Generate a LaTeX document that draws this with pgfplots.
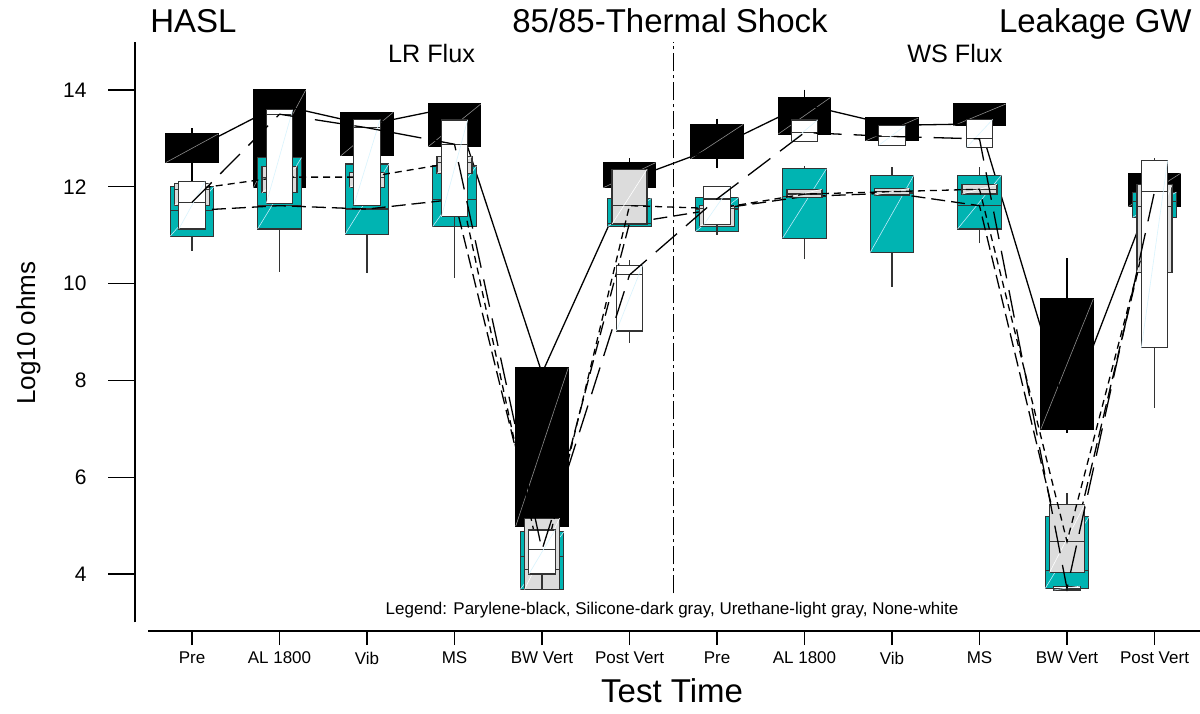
\documentclass[border=0pt]{standalone}
\usepackage{fontspec}
\setmainfont{Liberation Sans}
\usepackage{pgfplots}
\usepackage{pgfplotstable}
\pgfplotsset{compat=1.18}
\usepgfplotslibrary{statistics}
\definecolor{silicone}{RGB}{0,180,178}
\definecolor{urethane}{RGB}{220,220,220}

\pgfplotstableread{
lw lq med uq uw
12.10 12.50 12.76 13.09 13.21
11.98 11.98 13.69 14.00 14.02
12.64 12.64 13.28 13.54 13.54
12.83 12.83 13.65 13.71 13.71
4.99 4.99 8.15 8.26 8.26
11.98 11.98 12.15 12.50 12.59
12.38 12.58 12.82 13.29 13.41
13.09 13.09 13.70 13.85 14.01
12.95 12.95 13.27 13.42 13.42
13.26 13.26 13.30 13.71 13.71
6.92 6.99 7.30 9.68 10.52
11.59 11.59 12.00 12.28 12.28
}\parylene

\pgfplotstableread{
lw lq med uq uw
10.68 10.98 11.51 12.00 12.00
10.25 11.13 11.61 12.60 12.60
10.21 11.02 11.54 12.47 12.47
11.18 11.18 11.74 12.43 12.43
3.68 3.68 4.36 4.87 4.87
11.18 11.18 11.25 11.76 11.76
11.07 11.07 11.54 11.78 11.78
10.50 10.94 11.80 12.37 12.43
9.94 10.64 11.87 12.24 12.40
10.83 11.13 11.61 12.24 12.40
3.70 3.70 4.08 5.18 5.18
11.37 11.37 11.70 11.89 11.89
}\siliconetab

\pgfplotstableread{
lw lq med uq uw
11.62 11.62 11.95 12.07 12.07
11.88 11.88 12.20 12.42 12.42
11.99 11.99 12.20 12.29 12.29
12.28 12.28 12.50 12.62 12.62
3.68 3.68 4.10 5.15 5.15
11.23 11.23 11.61 12.36 12.36
11.18 11.18 11.55 11.62 11.62
11.78 11.78 11.85 11.95 11.95
11.83 11.83 11.90 11.97 11.97
11.85 11.85 11.95 12.05 12.05
4.03 4.03 4.67 5.43 5.67
10.23 10.23 11.60 12.04 12.04
}\urethanetab

\pgfplotstableread{
lw lq med uq uw
11.13 11.13 11.68 12.11 12.11
11.66 11.66 13.50 13.59 13.59
11.62 11.62 13.22 13.39 13.39
10.11 11.38 12.88 13.38 13.38
3.68 4.00 4.50 4.91 4.91
8.77 9.02 10.18 10.38 10.49
11.00 11.22 11.75 12.00 12.00
12.93 12.93 13.12 13.38 13.38
12.86 12.86 13.04 13.26 13.26
12.81 12.81 12.99 13.39 13.39
3.67 3.67 3.70 3.75 3.75
7.42 8.68 11.90 12.54 12.59
}\nonetab

% #1 table, #2 box extend, #3 fill, #4 draw, #5 diagonal colour, #6 median line style
\newcommand\series[6]{%
  \pgfplotsinvokeforeach{0,...,11}{%
    \pgfplotstablegetelem{##1}{lw}\of{#1}\let\vlw\pgfplotsretval
    \pgfplotstablegetelem{##1}{lq}\of{#1}\let\vlq\pgfplotsretval
    \pgfplotstablegetelem{##1}{med}\of{#1}\let\vmed\pgfplotsretval
    \pgfplotstablegetelem{##1}{uq}\of{#1}\let\vuq\pgfplotsretval
    \pgfplotstablegetelem{##1}{uw}\of{#1}\let\vuw\pgfplotsretval
    \edef\doplot{\noexpand\addplot[boxplot prepared={draw direction=y, draw position=##1, lower whisker=\vlw, lower quartile=\vlq, median=\vmed, upper quartile=\vuq, upper whisker=\vuw, box extend=#2, whisker extend=0},
      fill=#3, draw=#4, line width=0.6pt, solid] coordinates {};}%
    \doplot
  }
  \addplot[quiver={u=#2, v=\thisrow{uq}-\thisrow{lq}}, draw=#5, line width=0.3pt, solid] table[x expr=\coordindex-#2/2, y=lq]{#1};
  \addplot[black, line width=0.65pt, #6] table[x expr=\coordindex, y=med]{#1};
}

\begin{document}
\begin{tikzpicture}
\begin{axis}[
  scale only axis, width=532.5pt, height=294.7pt,
  xmin=-0.6514, xmax=11.52, ymin=2.8223, ymax=15,
  clip=false,
  boxplot/draw direction=y,
  axis line style={draw=none},
  tick align=outside, xtick pos=bottom, ytick pos=left,
  major tick length=7pt,
  tick style={black, line width=0.6pt},
  ytick=\empty,
  xtick={0,...,11},
  xticklabels={Pre,AL 1800,Vib,MS,BW Vert,Post Vert,Pre,AL 1800,Vib,MS,BW Vert,Post Vert},
  xticklabel style={font=\fontsize{8.5}{10}\selectfont},
  /pgf/number format/assume math mode=true,
]
\series{\parylene}{0.6}{black}{black}{black!45}{solid}
\series{\siliconetab}{0.5}{silicone}{black!80}{cyan!25}{dash pattern=on 7pt off 3pt}
\series{\urethanetab}{0.4}{urethane}{black!80}{white}{dash pattern=on 3.5pt off 2.5pt}
\series{\nonetab}{0.3}{white}{black!80}{cyan!15}{dash pattern=on 14pt off 6pt}

% axis lines and separator
\draw[line width=0.6pt] (axis cs:-0.6514,3.0) -- (axis cs:-0.6514,15);
\draw[line width=0.6pt] (axis cs:-0.5,2.8223) -- (axis cs:11.52,2.8223);
\draw[line width=0.6pt, dash pattern=on 9pt off 2pt on 1.5pt off 2pt] (axis cs:5.5,3.6) -- (axis cs:5.5,15);

% y ticks and their labels
\pgfplotsinvokeforeach{4,6,8,10,12,14}{%
  \draw[line width=0.6pt] (axis cs:-0.6514,#1) -- (axis cs:-0.96,#1);
  \node[anchor=east, inner sep=0pt, font=\fontsize{10.5}{12}\selectfont] at (axis cs:-1.2,#1) {#1};
}

% texts
\node[anchor=base west, font=\fontsize{16.5}{19}\selectfont, inner sep=0pt] at (axis cs:-0.48,15.178) {HASL};
\node[anchor=base, font=\fontsize{16.5}{19}\selectfont, inner sep=0pt] at (axis cs:5.463,15.178) {85/85-Thermal Shock};
\node[anchor=base east, font=\fontsize{16.5}{19}\selectfont, inner sep=0pt] at (axis cs:11.429,15.178) {Leakage GW};
\node[anchor=base, font=\fontsize{12.6}{15}\selectfont, inner sep=0pt] at (axis cs:2.737,14.578) {LR Flux};
\node[anchor=base, font=\fontsize{12.6}{15}\selectfont, inner sep=0pt] at (axis cs:8.72,14.578) {WS Flux};
\node[anchor=base, font=\fontsize{8.5}{10}\selectfont, inner sep=0pt] at (axis cs:5.486,3.153) {Legend: Parylene-black, Silicone-dark gray, Urethane-light gray, None-white};
\node[anchor=base, font=\fontsize{16.5}{19}\selectfont, inner sep=0pt] at (axis cs:5.486,1.355) {Test Time};
\node[anchor=base, rotate=90, font=\fontsize{13}{15}\selectfont, inner sep=0pt] at (axis cs:-1.794,8.979) {Log10 ohms};

\coordinate (bbA) at (axis cs:-2.1943,15.8595);
\coordinate (bbB) at (axis cs:11.52,1.1281);
\end{axis}
\pgfresetboundingbox
\path[use as bounding box] (bbA) rectangle (bbB);
\end{tikzpicture}
\end{document}
